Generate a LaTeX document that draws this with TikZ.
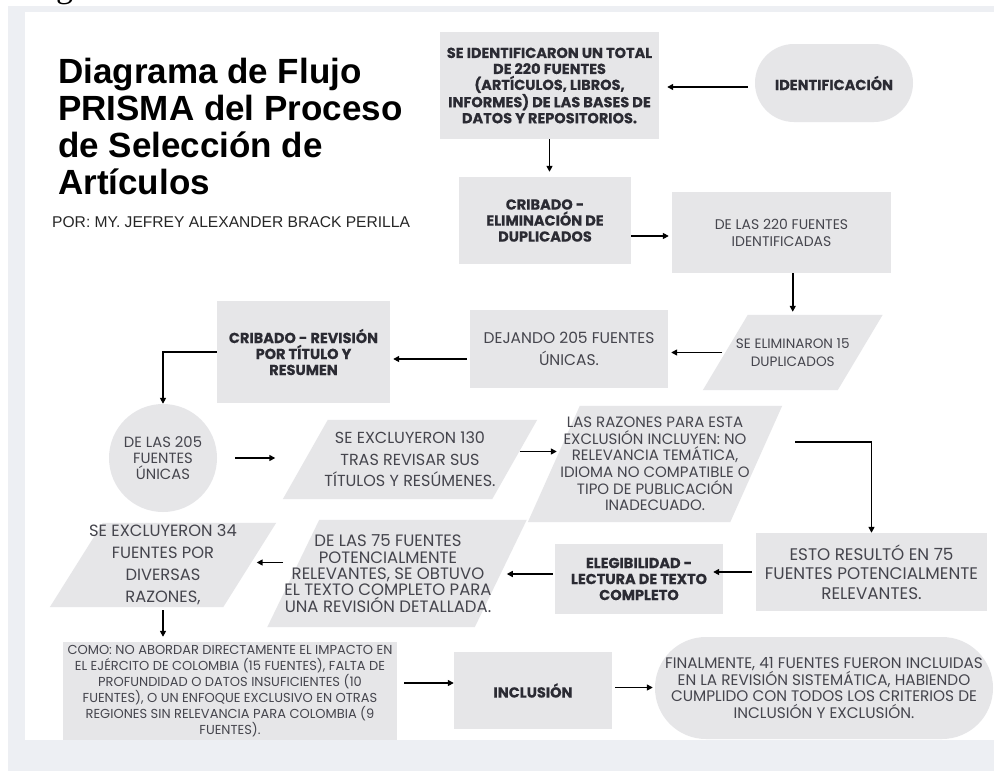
\documentclass[tikz,border=0pt]{standalone}
\usepackage{fontspec}
\usepackage{tikz}
\usetikzlibrary{arrows.meta,backgrounds}
\newfontfamily\titlefont{Liberation Sans}
\newfontfamily\boxfont{Poppins}[BoldFeatures={FakeBold=0.4}]
\newfontfamily\pagefont{Liberation Serif}
\definecolor{pageGrey}{HTML}{EDEFF3}
\definecolor{boxGrey}{HTML}{E6E6E8}
\definecolor{boldInk}{HTML}{2B2B33}
\definecolor{plainInk}{HTML}{45454D}

\begin{document}
\begin{tikzpicture}[x=1pt, y=-1pt,
  box/.style={fill=boxGrey, inner sep=0pt, align=center},
  bold/.style={font=\boxfont\bfseries\fontsize{14.5}{16}\selectfont, text=boldInk},
  plain/.style 2 args={font=\boxfont\fontsize{#1}{#2}\selectfont, text=plainInk},
  arr/.style={-{Triangle[length=6pt,width=6pt]}, line width=1.7pt, black}]
	\useasboundingbox (0,0) rectangle (994,771);
	% the screenshot's page edge
	\begin{scope}
		\clip (0,0) rectangle (994,6);
		\node[anchor=base west, inner sep=0pt, font=\pagefont\fontsize{34}{34}\selectfont] (gtail) at (56,-2.5) {g};
	\end{scope}
	% title
	\node[anchor=north west, inner sep=0pt, align=left, font=\titlefont\bfseries\fontsize{35}{37}\selectfont] (title) at (58,58) {Diagrama de Flujo\\PRISMA del Proceso\\de Selección de\\Artículos};
	\node[anchor=base west, inner sep=0pt, font=\titlefont\fontsize{15.6}{18}\selectfont, text=black!85] (author) at (52,227) {POR: MY. JEFREY ALEXANDER BRACK PERILLA};
	% identification
	\node[box, bold, rounded corners=39pt, minimum width=158pt, minimum height=78pt] (ident) at (834,83) {IDENTIFICACIÓN};
	\node[box, bold, minimum width=219pt, minimum height=107pt] (found) at (549.5,85.5) {SE IDENTIFICARON UN TOTAL\\DE 220 FUENTES\\(ARTÍCULOS, LIBROS,\\INFORMES) DE LAS BASES DE\\DATOS Y REPOSITORIOS.};
	\node[box, bold, minimum width=172pt, minimum height=87pt] (dedup) at (545,220.5) {CRIBADO -\\ELIMINACIÓN DE\\DUPLICADOS};
	\node[box, plain={14}{17}, minimum width=219pt, minimum height=81pt] (from220) at (781.5,232.5) {DE LAS 220 FUENTES\\IDENTIFICADAS};
	\node[inner sep=0pt, align=center, plain={13.6}{18}, minimum width=134.5pt, minimum height=75pt] (dupl) at (792.75,352.5) {SE ELIMINARON 15\\DUPLICADOS};
	\node[box, plain={15.5}{22}, minimum width=198pt, minimum height=78pt] (left205) at (569,349) {DEJANDO 205 FUENTES\\ÚNICAS.};
	% screening
	\node[box, bold, minimum width=173pt, minimum height=102pt] (screen) at (303.5,352) {CRIBADO - REVISIÓN\\POR TÍTULO Y\\RESUMEN};
	\node[circle, fill=boxGrey, inner sep=0pt, minimum size=108pt, align=center, plain={14.8}{16}] (of205) at (163,458) {DE LAS 205\\FUENTES\\ÚNICAS};
	\node[inner sep=0pt, align=center, plain={16}{21.5}, minimum width=209pt, minimum height=79pt] (excl130) at (410,459.5) {SE EXCLUYERON 130\\TRAS REVISAR SUS\\TÍTULOS Y RESÚMENES.};
	\node[inner sep=0pt, align=center, plain={15}{16.6}, minimum width=202pt, minimum height=116pt] (reasons) at (655,464) {LAS RAZONES PARA ESTA\\EXCLUSIÓN INCLUYEN: NO\\RELEVANCIA TEMÁTICA,\\IDIOMA NO COMPATIBLE O\\TIPO DE PUBLICACIÓN\\INADECUADO.};
	% eligibility
	\node[box, plain={16.8}{19.5}, minimum width=231pt, minimum height=78pt] (result75) at (871.5,572) {ESTO RESULTÓ EN 75\\FUENTES POTENCIALMENTE\\RELEVANTES.};
	\node[box, bold, minimum width=168pt, minimum height=70pt] (elig) at (639,579) {ELEGIBILIDAD -\\LECTURA DE TEXTO\\COMPLETO};
	\node[inner sep=0pt, align=center, plain={16.5}{16.3}, minimum width=206pt, minimum height=107pt] (full75) at (388,573.5) {DE LAS 75 FUENTES\\POTENCIALMENTE\\RELEVANTES, SE OBTUVO\\EL TEXTO COMPLETO PARA\\UNA REVISIÓN DETALLADA.};
	\node[inner sep=0pt, align=center, plain={16.3}{22}, minimum width=173pt, minimum height=84pt] (excl34) at (163,565) {SE EXCLUYERON 34\\FUENTES POR\\DIVERSAS\\RAZONES,};
	\node[box, plain={13}{16}, minimum width=334pt, minimum height=98pt] (detail34) at (230,691) {COMO: NO ABORDAR DIRECTAMENTE EL IMPACTO EN\\EL EJÉRCITO DE COLOMBIA (15 FUENTES), FALTA DE\\PROFUNDIDAD O DATOS INSUFICIENTES (10\\FUENTES), O UN ENFOQUE EXCLUSIVO EN OTRAS\\REGIONES SIN RELEVANCIA PARA COLOMBIA (9\\FUENTES).};
	% inclusion
	\node[box, bold, minimum width=158pt, minimum height=77pt] (incl) at (533,690.5) {INCLUSIÓN};
	\node[box, plain={15.3}{16.5}, rounded corners=51pt, minimum width=338pt, minimum height=102pt] (final) at (824,688) {FINALMENTE, 41 FUENTES FUERON INCLUIDAS\\EN LA REVISIÓN SISTEMÁTICA, HABIENDO\\CUMPLIDO CON TODOS LOS CRITERIOS DE\\INCLUSIÓN Y EXCLUSIÓN.};
	% connectors
	\draw[arr, shorten <=7pt, shorten >=8pt] ([yshift=-4pt]ident.west) -- ([yshift=-4pt]ident.west -| found.east);
	\draw[arr, shorten >=5pt] (found.south) -- (found.south |- dedup.north);
	\draw[arr, shorten >=3pt] ([yshift=-3.5pt]from220.west -| dedup.east) -- ([yshift=-3.5pt]from220.west);
	\draw[arr, shorten >=3pt] (from220.south -| dupl.north) -- (dupl.north);
	\draw[arr, shorten <=3pt, shorten >=3pt] (dupl.west) -- (dupl.west -| left205.east);
	\draw[arr, shorten <=3pt, shorten >=3pt] ([yshift=-10pt]left205.west) -- ([yshift=-10pt]left205.west -| screen.east);
	\draw[arr] (screen.west) -| (of205.north);
	\draw[arr, shorten <=18pt, shorten >=30pt] (of205.east) -- (of205.east -| excl130.west);
	\draw[arr, shorten <=5pt, shorten >=-3pt] ([yshift=8pt]excl130.east) -- ([yshift=8pt]excl130.east -| reasons.west);
	\draw[arr] ([shift={(39pt,22pt)}]reasons.east) -| (result75.north);
	\draw[arr, shorten <=4pt, shorten >=-10pt] (result75.west) -- (result75.west -| elig.east);
	\draw[arr, shorten <=2pt, shorten >=15pt] ([yshift=5pt]elig.west) -- ([yshift=5pt]elig.west -| full75.east);
	\draw[arr, shorten <=1pt, shorten >=7pt] ([yshift=11pt]full75.west) -- ([yshift=11pt]full75.west -| excl34.east);
	\draw[arr, shorten <=3pt, shorten >=5pt] (excl34.south) -- (excl34.south |- detail34.north);
	\draw[arr, shorten <=7pt] ([yshift=8pt]detail34.east) -- ([yshift=8pt]detail34.east -| incl.west);
	\draw[arr, shorten <=3pt, shorten >=2pt] ([yshift=3pt]incl.east) -- ([yshift=3pt]incl.east -| final.west);
	% page and slanted boxes behind the text
	\begin{scope}[on background layer]
		\fill[white] (0,0) rectangle (994,771);
		\fill[pageGrey] (8,6) rectangle (994,771);
		\fill[white] (25,12) rectangle (994,740);
		\fill[boxGrey] ([xshift=22.5pt]dupl.north west) -- ([xshift=22.5pt]dupl.north east) -- ([xshift=-22.5pt]dupl.south east) -- ([xshift=-22.5pt]dupl.south west) -- cycle;
		\fill[boxGrey] ([xshift=22.5pt]excl130.north west) -- ([xshift=22.5pt]excl130.north east) -- ([xshift=-22.5pt]excl130.south east) -- ([xshift=-22.5pt]excl130.south west) -- cycle;
		\fill[boxGrey] ([xshift=26pt]reasons.north west) -- ([xshift=26pt]reasons.north east) -- ([xshift=-26pt]reasons.south east) -- ([xshift=-26pt]reasons.south west) -- cycle;
		\fill[boxGrey] ([xshift=35pt]full75.north west) -- ([xshift=35pt]full75.north east) -- ([xshift=-17pt]full75.south east) -- ([xshift=-17pt]full75.south west) -- cycle;
		\fill[boxGrey] ([xshift=26.5pt]excl34.north west) -- ([xshift=26.5pt]excl34.north east) -- ([xshift=-26.5pt]excl34.south east) -- ([xshift=-26.5pt]excl34.south west) -- cycle;
	\end{scope}
\end{tikzpicture}
\end{document}
